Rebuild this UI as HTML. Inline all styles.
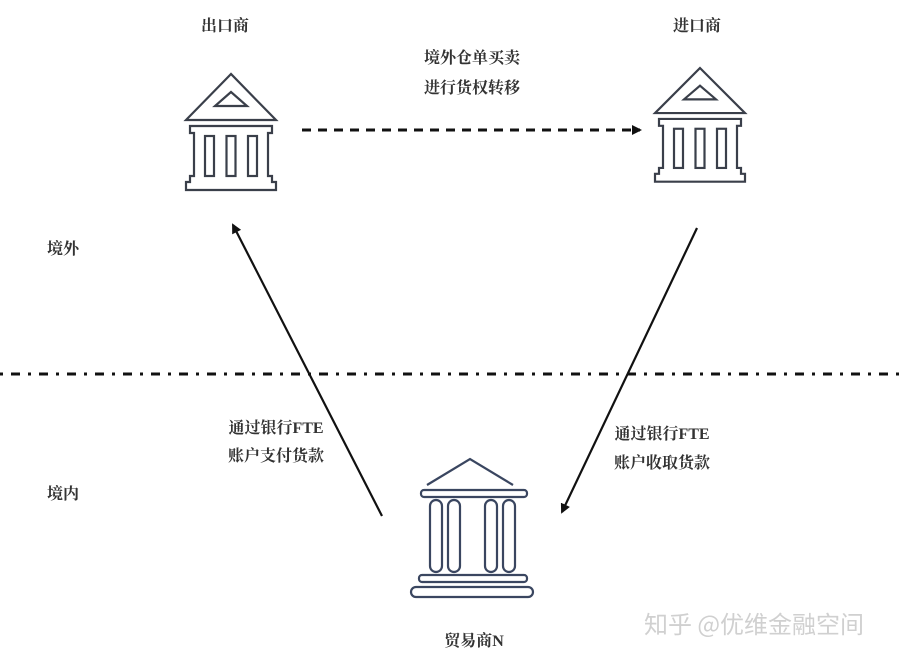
<!DOCTYPE html>
<html><head><meta charset="utf-8"><style>
body{margin:0;background:#fff;width:899px;height:661px;overflow:hidden}
svg{display:block}
.t{font-family:"Liberation Serif","Noto Serif CJK SC",serif;font-size:16px;font-weight:bold;fill:#333}
</style></head><body>
<svg width="899" height="661" viewBox="0 0 899 661">
<defs>
<g id="bank" fill="none" stroke="#3a3f4a" stroke-width="2.2" stroke-linejoin="miter">
<polygon points="0,0 -45,46 45,46"/>
<polygon points="0,18 -16,32 16,32"/>
<path d="M-41,52 H41 V59 H37 V102 H41 V108 H45 V116 H-45 V108 H-41 V102 H-37 V59 H-41 Z"/>
<rect x="-26" y="62" width="9" height="40"/>
<rect x="-4.5" y="62" width="9" height="40"/>
<rect x="17" y="62" width="9" height="40"/>
</g>
<marker id="ah" markerWidth="10" markerHeight="10" refX="8" refY="5" orient="auto" markerUnits="userSpaceOnUse">
<path d="M0,0 L10,5 L0,10 Z" fill="#111"/>
</marker>
</defs>
<use href="#bank" transform="translate(231,74)"/>
<use href="#bank" transform="translate(700,68) scale(1,0.98)"/>
<g fill="none" stroke="#3a4660" stroke-width="2.2">
<polyline points="427,485 470,459 513,485"/>
<rect x="421" y="490" width="106" height="7" rx="3"/>
<rect x="430" y="500" width="12" height="72" rx="6"/>
<rect x="448" y="500" width="12" height="72" rx="6"/>
<rect x="485" y="500" width="12" height="72" rx="6"/>
<rect x="503" y="500" width="12" height="72" rx="6"/>
<rect x="419" y="575" width="108" height="7" rx="3"/>
<rect x="411" y="587" width="122" height="10" rx="5"/>
</g>
<line x1="302" y1="130" x2="640" y2="130" stroke="#111" stroke-width="3" stroke-dasharray="9 7" marker-end="url(#ah)"/>
<line x1="382" y1="516" x2="233" y2="225" stroke="#111" stroke-width="2.2" marker-end="url(#ah)"/>
<line x1="697" y1="228" x2="562" y2="512" stroke="#111" stroke-width="2.2" marker-end="url(#ah)"/>
<line x1="0" y1="374" x2="899" y2="374" stroke="#111" stroke-width="3" stroke-dasharray="3 8 9 8"/>
<text class="t" x="225" y="31" text-anchor="middle">出口商</text>
<text class="t" x="697" y="31" text-anchor="middle">进口商</text>
<text class="t" x="472" y="63" text-anchor="middle">境外仓单买卖</text>
<text class="t" x="472" y="93" text-anchor="middle">进行货权转移</text>
<text class="t" x="63" y="254" text-anchor="middle">境外</text>
<text class="t" x="63" y="499" text-anchor="middle">境内</text>
<text class="t" x="276" y="433" text-anchor="middle">通过银行FTE</text>
<text class="t" x="276" y="461" text-anchor="middle">账户支付货款</text>
<text class="t" x="662" y="439" text-anchor="middle">通过银行FTE</text>
<text class="t" x="662" y="468" text-anchor="middle">账户收取货款</text>
<text class="t" x="474" y="646" text-anchor="middle">贸易商N</text>
<text x="754" y="633" text-anchor="middle" font-family="'Noto Sans CJK SC',sans-serif" font-size="24" fill="#d0d0d0">知乎 @优维金融空间</text>
</svg>
</body></html>
